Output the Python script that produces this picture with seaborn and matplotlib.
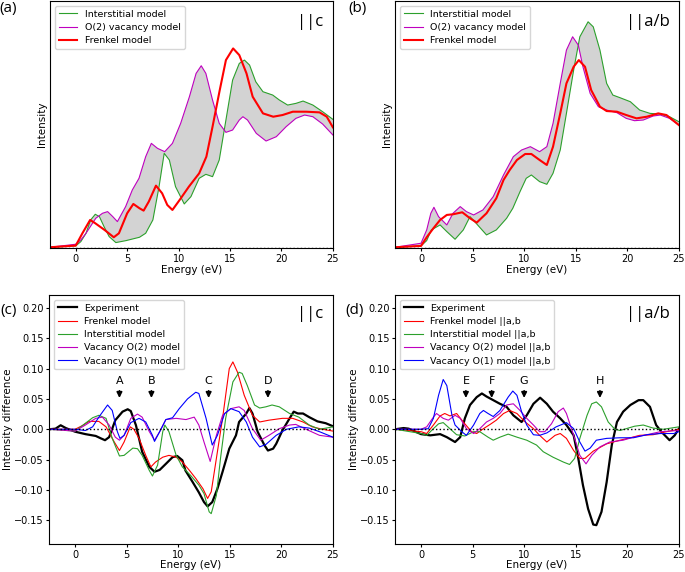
import numpy as np
import matplotlib
matplotlib.use("Agg")
import matplotlib.pyplot as plt
import seaborn as sns

# ---------------- (a) spectra ||c  (arbitrary intensity units)
a_int_e = [-2.5, 0, 0.5, 1.0, 1.45, 1.9, 2.3, 2.75, 3.25, 3.9, 4.9, 6.2, 6.8, 7.5, 8.1, 8.6, 9.1, 9.7,
           10.55, 11.2, 12.0, 12.65, 13.3, 13.95, 14.6, 15.25, 15.9, 16.4, 16.9, 17.5, 18.2, 19.15,
           19.8, 20.6, 21.4, 22.1, 23.05, 24.0, 25]
a_int_y = [0.03, 0.07, 0.2, 0.45, 0.85, 1.02, 0.95, 0.65, 0.35, 0.17, 0.23, 0.33, 0.45, 0.85, 1.85, 2.85,
           2.65, 1.85, 1.33, 1.55, 2.1, 2.22, 2.15, 2.65, 3.85, 5.05, 5.55, 5.65, 5.5, 5.0, 4.7, 4.6,
           4.45, 4.3, 4.35, 4.42, 4.3, 4.1, 3.87]
a_vac_e = [-2.5, 0, 0.5, 1.0, 1.95, 2.6, 3.1, 3.6, 4.05, 4.85, 5.5, 6.15, 6.8, 7.35, 7.95, 8.65, 9.4,
           10.2, 11.05, 11.7, 12.2, 12.65, 13.3, 13.95, 14.6, 15.25, 15.9, 16.25, 16.7, 17.55, 18.5,
           19.5, 20.45, 21.4, 22.25, 23.05, 24.0, 25]
a_vac_y = [0.03, 0.12, 0.25, 0.45, 0.9, 1.05, 1.1, 0.95, 0.8, 1.25, 1.75, 2.1, 2.75, 3.15, 3.0, 2.9,
           3.15, 3.75, 4.55, 5.25, 5.48, 5.25, 4.45, 3.75, 3.48, 3.55, 3.85, 3.95, 3.85, 3.45, 3.22,
           3.35, 3.65, 3.9, 4.0, 3.95, 3.73, 3.4]
a_fr_e = [-2.5, 0, 0.65, 1.4, 1.9, 2.8, 3.7, 4.2, 5.0, 5.6, 6.2, 6.6, 7.1, 7.8, 8.4, 8.9, 9.4, 10.1,
          11.0, 12.0, 12.7, 13.3, 14.0, 14.6, 15.3, 15.9, 16.6, 17.2, 18.2, 19.2, 20.1, 21.1, 22.4,
          23.7, 24.4, 25]
a_fr_y = [0.03, 0.08, 0.45, 0.85, 0.75, 0.55, 0.33, 0.45, 1.05, 1.33, 1.2, 1.13, 1.4, 1.88, 1.65, 1.3,
          1.15, 1.45, 1.85, 2.25, 2.75, 3.65, 4.75, 5.65, 6.0, 5.8, 5.25, 4.55, 4.05, 3.95, 4.0, 4.1,
          4.1, 4.08, 3.95, 3.63]

# ---------------- (b) spectra ||a/b
b_int_e = [-2.5, 0, 0.55, 1.0, 1.85, 2.5, 3.3, 4.1, 4.75, 5.4, 6.35, 7.3, 8.3, 8.9, 9.6, 10.2, 10.7,
           11.5, 12.2, 12.8, 13.5, 14.1, 14.8, 15.4, 16.2, 16.7, 17.35, 18.0, 18.6, 19.3, 20.3, 21.2,
           22.2, 23.2, 24.1, 25]
b_int_y = [0.03, 0.07, 0.23, 0.55, 0.7, 0.5, 0.27, 0.55, 0.95, 0.73, 0.4, 0.55, 0.9, 1.2, 1.7, 2.1,
           2.2, 2.0, 1.92, 2.25, 2.95, 4.05, 5.35, 6.35, 6.8, 6.65, 5.95, 4.95, 4.6, 4.52, 4.4, 4.15,
           4.05, 4.03, 3.95, 3.8]
b_vac_e = [-2.5, 0, 0.55, 0.95, 1.25, 1.7, 2.5, 3.1, 3.8, 4.4, 5.1, 6.0, 7.0, 8.0, 8.95, 9.75, 10.6,
           11.5, 12.2, 12.8, 13.5, 14.1, 14.7, 15.25, 15.7, 16.4, 17.2, 18.0, 19.0, 19.9, 20.7, 21.55,
           22.5, 23.2, 24.1, 25]
b_vac_y = [0.03, 0.15, 0.55, 1.05, 1.23, 0.95, 0.7, 1.05, 1.25, 1.1, 1.0, 1.15, 1.55, 2.2, 2.75, 2.95,
           3.05, 2.9, 3.05, 3.75, 4.95, 5.95, 6.35, 6.1, 5.45, 4.65, 4.25, 4.15, 4.07, 3.9, 3.83, 3.85,
           3.97, 4.0, 3.9, 3.7]
b_fr_e = [-2.5, 0, 0.55, 1.2, 1.85, 2.5, 3.1, 4.0, 4.75, 5.4, 6.35, 7.3, 8.0, 8.6, 9.3, 10.1, 10.7,
          11.5, 12.2, 12.8, 13.5, 14.1, 14.8, 15.3, 15.9, 16.5, 17.35, 18.0, 19.0, 19.9, 20.9, 21.9,
          23.0, 23.8, 25]
b_fr_y = [0.03, 0.07, 0.33, 0.6, 0.85, 1.0, 1.02, 1.08, 0.9, 0.77, 1.05, 1.5, 2.05, 2.35, 2.65, 2.83,
          2.83, 2.65, 2.5, 3.05, 4.05, 4.95, 5.45, 5.65, 5.45, 4.75, 4.25, 4.12, 4.1, 4.0, 3.9, 3.95,
          4.05, 4.0, 3.7]

# ---------------- (c) intensity difference ||c
c_exp_e = [-2.5, -1.9, -1.4, -0.9, 0, 1.0, 2.0, 2.5, 2.9, 3.3, 3.9, 4.6, 5.1, 5.4, 5.9, 6.5, 7.2, 7.7,
           8.2, 8.8, 9.45, 9.9, 10.4, 10.7, 11.4, 12.0, 12.5, 12.85, 13.3, 13.8, 14.3, 14.95, 15.6,
           15.9, 16.6, 16.9, 17.2, 17.7, 18.35, 18.7, 19.2, 19.5, 20.1, 20.8, 21.2, 21.6, 22.1, 22.7,
           23.5, 24.3, 25]
c_exp_y = [0.0, 0.001, 0.0066, 0.002, -0.004, -0.008, -0.011, -0.015, -0.018, -0.013, 0.015, 0.029,
           0.033, 0.03, 0.0066, -0.037, -0.062, -0.07, -0.067, -0.057, -0.046, -0.044, -0.051, -0.068,
           -0.087, -0.104, -0.12, -0.127, -0.12, -0.098, -0.07, -0.032, -0.01, 0.012, 0.026, 0.035,
           0.026, -0.004, -0.026, -0.035, -0.032, -0.024, -0.002, 0.018, 0.029, 0.026, 0.026, 0.02,
           0.013, 0.01, 0.005]
c_fr_e = [-2.5, 0, 0.7, 1.35, 2.3, 3.0, 3.8, 4.3, 4.75, 5.35, 5.7, 6.2, 6.85, 7.35, 7.8, 8.5, 9.1, 9.8,
          10.4, 11.1, 11.7, 12.4, 12.85, 13.2, 13.7, 14.3, 14.95, 15.3, 15.75, 16.4, 17.2, 17.9, 18.8,
          20.1, 21.1, 22.1, 23.0, 24.0, 25]
c_fr_y = [0.0, 0.0, 0.006, 0.013, 0.013, 0.004, -0.021, -0.035, -0.021, 0.004, 0.0, -0.015, -0.043,
          -0.062, -0.054, -0.046, -0.043, -0.046, -0.054, -0.068, -0.081, -0.098, -0.114, -0.103,
          -0.048, 0.018, 0.1, 0.111, 0.094, 0.056, 0.023, 0.012, 0.015, 0.018, 0.018, 0.012, 0.004,
          0.0, -0.003]
c_int_e = [-2.5, 0, 0.7, 1.7, 2.3, 3.0, 3.6, 4.3, 4.75, 5.6, 6.05, 6.5, 7.2, 7.5, 8.0, 8.5, 8.7, 9.1,
           9.8, 10.4, 11.2, 12.0, 12.5, 13.0, 13.2, 13.7, 14.1, 14.6, 15.3, 15.9, 16.2, 16.7, 17.4,
           17.9, 18.5, 19.1, 19.8, 20.8, 21.7, 22.7, 23.7, 25]
c_int_y = [0.0, -0.003, 0.006, 0.019, 0.023, 0.018, -0.015, -0.044, -0.043, -0.031, -0.032, -0.043,
           -0.068, -0.077, -0.059, -0.004, 0.007, -0.004, -0.043, -0.062, -0.076, -0.092, -0.106,
           -0.136, -0.139, -0.109, -0.048, 0.018, 0.078, 0.094, 0.092, 0.072, 0.04, 0.035, 0.037,
           0.04, 0.037, 0.026, 0.02, 0.007, 0.0, 0.004]
c_v2_e = [-2.5, 0, 1.0, 2.0, 2.65, 3.3, 3.9, 4.3, 4.75, 5.4, 6.05, 6.5, 7.2, 7.7, 8.2, 8.8, 9.8, 10.75,
          11.55, 12.0, 12.5, 13.1, 13.7, 14.3, 15.1, 15.9, 16.4, 17.2, 18.0, 18.8, 19.8, 20.8, 21.4,
          22.4, 23.7, 25]
c_v2_y = [0.0, -0.003, 0.007, 0.018, 0.02, 0.007, -0.013, -0.018, -0.01, 0.018, 0.025, 0.02, -0.004,
          -0.018, -0.004, 0.016, 0.018, 0.016, 0.02, 0.007, -0.021, -0.053, -0.01, 0.023, 0.034,
          0.037, 0.031, 0.001, -0.018, -0.01, 0.001, 0.007, 0.008, 0.0, -0.01, -0.013]
c_v1_e = [-2.5, 0, 1.0, 1.7, 2.3, 3.15, 3.6, 4.1, 4.35, 4.75, 5.4, 6.2, 6.85, 7.5, 7.7, 8.2, 8.8, 9.45,
          10.1, 10.9, 11.7, 12.0, 12.7, 13.3, 13.8, 14.5, 15.1, 15.9, 16.6, 17.2, 17.9, 18.5, 19.5,
          20.5, 21.7, 22.7, 23.7, 25]
c_v1_y = [0.0, 0.0, -0.002, 0.004, 0.02, 0.04, 0.031, -0.004, -0.015, -0.01, 0.011, 0.018, 0.012,
          -0.01, -0.02, -0.004, 0.016, 0.019, 0.034, 0.05, 0.061, 0.059, 0.018, -0.026, -0.01, 0.026,
          0.034, 0.029, 0.012, -0.013, -0.029, -0.025, -0.01, 0.0, 0.004, 0.002, -0.004, -0.013]
c_marks = ['A', 'B', 'C', 'D']
c_mark_e = [4.3, 7.4, 12.95, 18.7]

# ---------------- (d) intensity difference ||a/b
d_exp_e = [-2.5, -1.7, -1.2, 0, 0.9, 1.85, 2.5, 3.3, 3.8, 4.25, 4.75, 5.4, 5.9, 6.35, 7.0, 7.65, 8.3,
           8.95, 9.75, 10.25, 10.9, 11.55, 12.2, 12.8, 13.5, 14.1, 14.8, 15.25, 15.7, 16.2, 16.7, 17.0,
           17.5, 18.0, 18.5, 19.0, 19.6, 20.3, 21.1, 21.55, 22.2, 22.8, 23.3, 24.1, 24.6, 25]
d_exp_y = [0.0, 0.002, 0.001, -0.008, -0.01, -0.008, -0.013, -0.021, -0.013, 0.018, 0.04, 0.053,
           0.059, 0.054, 0.048, 0.042, 0.037, 0.023, 0.012, 0.023, 0.042, 0.052, 0.042, 0.029, 0.018,
           0.007, -0.01, -0.048, -0.092, -0.131, -0.157, -0.158, -0.136, -0.087, -0.026, 0.012,
           0.029, 0.04, 0.048, 0.048, 0.037, 0.007, -0.004, -0.018, -0.01, 0.001]
d_fr_e = [-2.5, 0, 0.55, 1.2, 1.85, 2.3, 2.8, 3.45, 4.1, 4.9, 5.4, 6.05, 6.7, 7.3, 8.0, 8.6, 9.3, 10.1,
          10.9, 11.5, 12.2, 13.0, 13.5, 14.1, 14.8, 15.4, 15.9, 16.7, 18.0, 19.3, 20.3, 21.2, 22.5,
          23.8, 25]
d_fr_y = [0.0, -0.004, -0.007, 0.007, 0.022, 0.026, 0.022, 0.026, 0.012, -0.004, -0.007, 0.001, 0.008,
          0.015, 0.026, 0.031, 0.026, 0.012, 0.001, -0.01, -0.021, -0.01, -0.007, -0.015, -0.035,
          -0.048, -0.048, -0.036, -0.024, -0.018, -0.014, -0.01, -0.009, -0.004, 0.0]
d_int_e = [-2.5, 0, 0.55, 1.2, 1.7, 2.15, 2.8, 3.45, 4.25, 5.1, 5.7, 6.5, 7.0, 7.65, 8.45, 9.3, 10.25,
           11.2, 11.85, 12.8, 13.8, 14.4, 14.9, 15.4, 16.1, 16.55, 17.0, 17.5, 18.15, 18.8, 19.3,
           19.9, 20.7, 21.55, 22.5, 23.5, 25]
d_int_y = [0.0, -0.007, -0.01, 0.001, 0.009, 0.011, 0.001, -0.009, -0.011, -0.004, -0.004, -0.013,
           -0.018, -0.013, -0.008, -0.013, -0.018, -0.026, -0.037, -0.046, -0.054, -0.058, -0.048,
           -0.015, 0.023, 0.042, 0.045, 0.037, 0.012, 0.0, -0.002, 0.001, 0.005, 0.007, 0.002, 0.0,
           0.004]
d_v2_e = [-2.5, 0, 0.55, 1.2, 1.5, 2.15, 2.65, 3.3, 3.8, 4.4, 5.1, 5.7, 6.35, 7.0, 7.65, 8.3, 8.95,
          9.6, 10.25, 10.9, 11.5, 12.0, 12.65, 13.3, 13.8, 14.1, 14.8, 15.4, 16.0, 16.55, 17.35, 18.3,
          19.6, 20.6, 21.9, 23.2, 25]
d_v2_y = [0.0, 0.0, 0.004, 0.02, 0.026, 0.018, 0.015, 0.023, 0.018, 0.001, -0.007, 0.001, 0.012,
          0.018, 0.026, 0.04, 0.042, 0.031, 0.018, 0.007, -0.004, -0.004, 0.009, 0.029, 0.035, 0.026,
          -0.01, -0.043, -0.057, -0.043, -0.029, -0.021, -0.018, -0.013, -0.009, -0.004, -0.002]
d_v1_e = [-2.5, 0, 0.7, 1.2, 1.7, 2.15, 2.5, 3.0, 3.3, 3.95, 4.4, 5.1, 5.7, 6.05, 6.5, 7.0, 7.65, 8.45,
          8.9, 9.3, 9.75, 10.25, 10.9, 11.5, 12.2, 13.1, 14.1, 14.8, 15.4, 15.9, 16.4, 17.0, 18.0,
          19.3, 20.6, 21.9, 23.2, 24.5, 25]
d_v1_y = [0.0, 0.0, 0.001, 0.018, 0.056, 0.082, 0.072, 0.023, 0.007, -0.004, -0.01, 0.007, 0.026,
          0.031, 0.026, 0.021, 0.031, 0.053, 0.063, 0.056, 0.029, 0.007, -0.009, -0.01, -0.006, 0.004,
          0.011, 0.001, -0.021, -0.036, -0.031, -0.018, -0.015, -0.014, -0.014, -0.009, -0.007,
          -0.007, -0.004]
d_marks = ['E', 'F', 'G', 'H']
d_mark_e = [4.35, 6.85, 10.0, 17.35]

plt.rcParams['font.size'] = 7.5
plt.rcParams['xtick.labelsize'] = 7
plt.rcParams['ytick.labelsize'] = 7
plt.rcParams['xtick.major.size'] = 2.5
plt.rcParams['ytick.major.size'] = 2.5
plt.rcParams['xtick.major.pad'] = 1.5
plt.rcParams['ytick.major.pad'] = 1.5
plt.rcParams['legend.fontsize'] = 6.8
plt.rcParams['legend.labelspacing'] = 0.45

fig = plt.figure(figsize=(6.85, 5.72), dpi=100)
ax_a = fig.add_axes([0.073, 0.566, 0.413, 0.432])
ax_b = fig.add_axes([0.577, 0.566, 0.414, 0.432])
ax_c = fig.add_axes([0.072, 0.049, 0.414, 0.435])
ax_d = fig.add_axes([0.577, 0.049, 0.414, 0.435])


def spectra(ax, e_int, y_int, e_vac, y_vac, e_fr, y_fr, tag, tag_x):
    # grey band between interstitial and vacancy curves
    ax.fill(np.r_[e_int, e_vac[::-1]], np.r_[y_int, y_vac[::-1]], color='lightgrey', lw=0, zorder=0)
    sns.lineplot(x=e_int, y=y_int, ax=ax, color='tab:green', lw=0.8, label='Interstitial model')
    sns.lineplot(x=e_vac, y=y_vac, ax=ax, color='m', lw=0.8, label='O(2) vacancy model')
    sns.lineplot(x=e_fr, y=y_fr, ax=ax, color='red', lw=1.5, label='Frenkel model')
    ax.axhline(0, color='k', ls=':', lw=1)
    ax.set_xlim(-2.5, 25)
    ax.set_ylim(0, 7.42)
    ax.set_yticks([])
    ax.set_xticks([0, 5, 10, 15, 20, 25])
    ax.set_xlabel('Energy (eV)', labelpad=1)
    ax.set_ylabel('Intensity', labelpad=2)
    ax.legend(loc='upper left')
    ax.text(tag_x, 0.915, tag, transform=ax.transAxes, ha='center', va='center',
            fontsize=12, family='Open Sans')


def difference(ax, curves, labels, marks, mark_e, tag, tag_x):
    for (e, y, col, lw), lab in zip(curves, labels):
        sns.lineplot(x=e, y=y, ax=ax, color=col, lw=lw, label=lab)
    ax.axhline(0, color='k', ls=':', lw=1)
    for m, x in zip(marks, mark_e):
        ax.annotate('', xy=(x, 0.047), xytext=(x, 0.068),
                    arrowprops=dict(arrowstyle='-|>', color='k', lw=1.2, mutation_scale=8))
        ax.text(x, 0.079, m, ha='center', va='center', fontsize=8)
    ax.set_xlim(-2.5, 25)
    ax.set_ylim(-0.189, 0.221)
    ax.set_xticks([0, 5, 10, 15, 20, 25])
    ax.set_yticks([-0.15, -0.1, -0.05, 0, 0.05, 0.1, 0.15, 0.2])
    ax.set_xlabel('Energy (eV)', labelpad=0)
    ax.set_ylabel('Intensity difference', labelpad=1)
    ax.legend(loc='upper left')
    ax.text(tag_x, 0.925, tag, transform=ax.transAxes, ha='center', va='center',
            fontsize=12, family='Open Sans')


spectra(ax_a, a_int_e, a_int_y, a_vac_e, a_vac_y, a_fr_e, a_fr_y, '||c', 0.92)
spectra(ax_b, b_int_e, b_int_y, b_vac_e, b_vac_y, b_fr_e, b_fr_y, '||a/b', 0.89)

difference(ax_c,
           [(c_exp_e, c_exp_y, 'black', 1.6), (c_fr_e, c_fr_y, 'red', 0.8),
            (c_int_e, c_int_y, 'tab:green', 0.8), (c_v2_e, c_v2_y, 'm', 0.8),
            (c_v1_e, c_v1_y, 'blue', 0.8)],
           ['Experiment', 'Frenkel model', 'Interstitial model', 'Vacancy O(2) model',
            'Vacancy O(1) model'], c_marks, c_mark_e, '||c', 0.92)
difference(ax_d,
           [(d_exp_e, d_exp_y, 'black', 1.6), (d_fr_e, d_fr_y, 'red', 0.8),
            (d_int_e, d_int_y, 'tab:green', 0.8), (d_v2_e, d_v2_y, 'm', 0.8),
            (d_v1_e, d_v1_y, 'blue', 0.8)],
           ['Experiment', 'Frenkel model ||a,b', 'Interstitial model ||a,b',
            'Vacancy O(2) model ||a,b', 'Vacancy O(1) model ||a,b'], d_marks, d_mark_e, '||a/b', 0.89)

for lab, x, y in [('(a)', 0.012, 0.985), ('(b)', 0.522, 0.985), ('(c)', 0.012, 0.458), ('(d)', 0.518, 0.458)]:
    fig.text(x, y, lab, ha='center', va='center', fontsize=11, family='Open Sans')

fig.savefig('out.png', dpi=100)
